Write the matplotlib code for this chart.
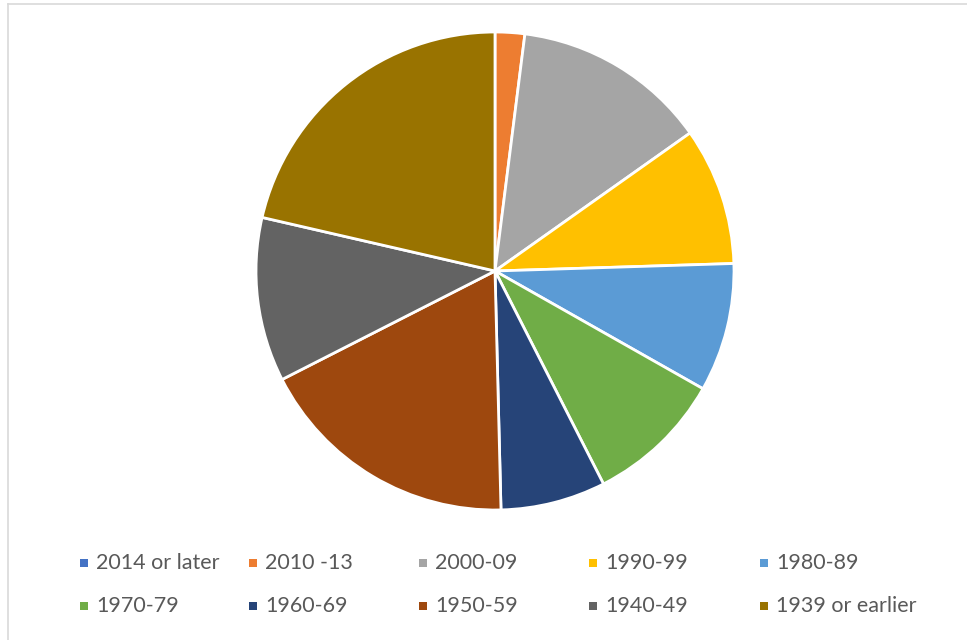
import matplotlib
matplotlib.use("Agg")
import matplotlib.pyplot as plt
from matplotlib.patches import Rectangle
from matplotlib.lines import Line2D

# Share of dwellings by period of construction (%)
periods = ["2014 or later", "2010 -13", "2000-09", "1990-99", "1980-89",
           "1970-79", "1960-69", "1950-59", "1940-49", "1939 or earlier"]
shares = [0.0, 2.0, 13.2, 9.3, 8.7, 9.3, 7.1, 17.9, 11.1, 21.4]
colors = ["#4472C4", "#ED7D31", "#A5A5A5", "#FFC000", "#5B9BD5",
          "#70AD47", "#264478", "#9E480E", "#636363", "#997300"]

W, H = 967, 640
fig = plt.figure(figsize=(W / 100, H / 100), dpi=100)
fig.patch.set_facecolor("white")

# chart-area frame (left and top edges visible)
fig.add_artist(Line2D([7.5 / W, 7.5 / W], [0, 1 - 3.5 / H], transform=fig.transFigure,
                      color="#d9d9d9", lw=1.2))
fig.add_artist(Line2D([7.5 / W, 1], [1 - 3.5 / H, 1 - 3.5 / H], transform=fig.transFigure,
                      color="#d9d9d9", lw=1.2))

cx, cy, r = 495, 271, 239
ax = fig.add_axes([(cx - r) / W, (H - cy - r) / H, 2 * r / W, 2 * r / H])
ax.pie(shares, colors=colors, startangle=90, counterclock=False, radius=1,
       wedgeprops=dict(edgecolor="white", linewidth=2.0))
ax.set_xlim(-1.0, 1.0)
ax.set_ylim(-1.0, 1.0)
ax.set_aspect("equal")
ax.axis("off")

# legend: two rows of five entries
col_x = [84, 253, 423, 593, 764]
row_y = [563, 606]
for i, (lab, col) in enumerate(zip(periods, colors)):
    x = col_x[i % 5]
    y = row_y[i // 5]
    s = 8
    fig.add_artist(Rectangle(((x - s / 2) / W, (H - y - s / 2) / H), s / W, s / H,
                             transform=fig.transFigure, facecolor=col, edgecolor="none"))
    fig.text((x + 12) / W, (H - y) / H, lab, ha="left", va="center",
             fontsize=15.5, color="#595959", family=["Lato", "DejaVu Sans"])

fig.savefig("out.png", dpi=100, facecolor="white")
